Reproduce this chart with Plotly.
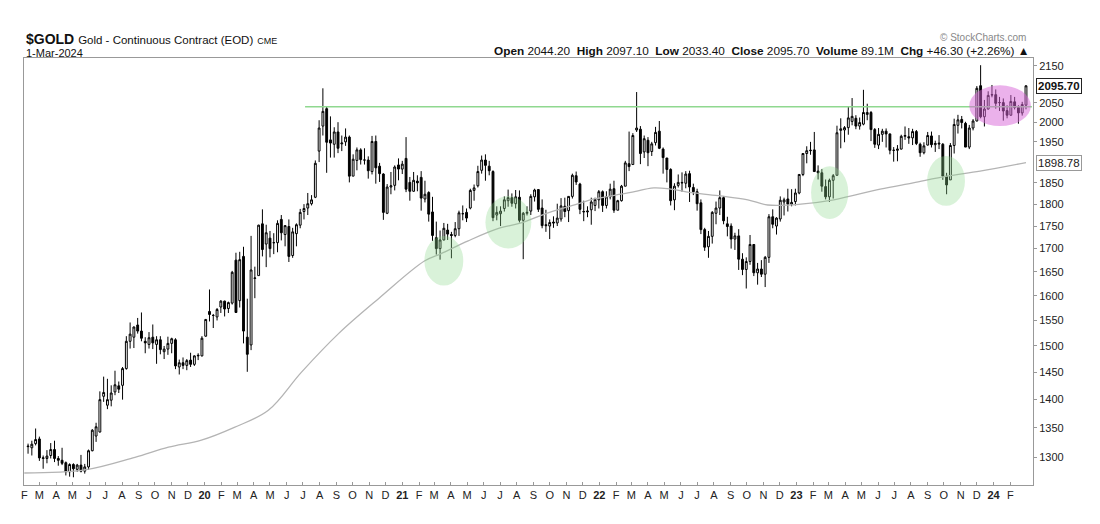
import math
import pandas as pd
import plotly.graph_objects as go

# ---------------- data (weekly bars, first bar = week ending 2019-02-08) ----------------
first_week = "2019-02-08"

open_ = [
    # 2019
    1319, 1316, 1323,
    1331, 1298, 1298, 1303, 1313,
    1298, 1295, 1291, 1276,
    1288, 1280, 1287, 1277, 1284,
    1311, 1336, 1343, 1406,
    1390, 1399, 1414, 1425,
    1426, 1457, 1509, 1517, 1541,
    1529, 1509, 1503, 1517,
    1503, 1512, 1489, 1494,
    1505, 1512, 1460, 1468, 1463,
    1473, 1465, 1481, 1481,
    # 2020
    1519, 1568, 1560, 1557, 1577,
    1589, 1574, 1585, 1675,
    1590, 1683, 1517, 1502,
    1636, 1642, 1755, 1710,
    1723, 1713, 1713, 1765, 1731,
    1749, 1685, 1733, 1752,
    1783, 1791, 1801, 1816, 1927,
    1990, 2035, 1955, 1944,
    1975, 1945, 1950, 1962,
    1866, 1904, 1930, 1905, 1905,
    1877, 1951, 1890, 1871,
    1779, 1840, 1844, 1893,
    # 2021
    1883, 1909, 1851, 1830, 1854,
    1863, 1812, 1827, 1782,
    1724, 1700, 1719, 1741,
    1731, 1729, 1744, 1778, 1781,
    1791, 1832, 1843, 1880,
    1905, 1890, 1877, 1775,
    1778, 1790, 1808, 1815, 1801,
    1816, 1763, 1779, 1784,
    1817, 1834, 1791, 1753,
    1750, 1759, 1757, 1766, 1795,
    1785, 1818, 1867, 1847,
    1782, 1782, 1787, 1797, 1810,
    # 2022
    1829, 1797, 1817, 1836,
    1786, 1808, 1842, 1896,
    1894, 1980, 1982, 1925,
    1954, 1926, 1948, 1977, 1932,
    1910, 1882, 1810, 1844,
    1851, 1849, 1872, 1839,
    1829, 1803, 1742, 1704, 1727,
    1779, 1791, 1815, 1755,
    1750, 1721, 1728, 1677, 1655,
    1672, 1709, 1648, 1656,
    1645, 1681, 1771, 1750,
    1766, 1805, 1812, 1800, 1806,
    # 2023
    1826, 1870, 1921, 1928,
    1930, 1878, 1874, 1841,
    1817, 1856, 1868, 1979, 1980,
    1986, 2002, 2010, 1990,
    1995, 2020, 2025, 1981,
    1942, 1969, 1977, 1970, 1929,
    1929, 1932, 1964, 1963,
    1960, 1976, 1944, 1923,
    1942, 1965, 1943, 1947, 1944,
    1866, 1857, 1941, 1992,
    2007, 1997, 1937, 1985,
    2003, 2096, 2014, 2034, 2071,
    # 2024
    2072, 2051, 2051, 2030,
    2018, 2053, 2038, 2024,
    2044.2,
]

high = [
    # 2019
    1323, 1328, 1349,
    1335, 1303, 1312, 1324, 1328,
    1302, 1316, 1293, 1290,
    1290, 1289, 1304, 1289, 1313,
    1348, 1359, 1415, 1442,
    1438, 1426, 1453, 1433,
    1460, 1519, 1546, 1538, 1555,
    1566, 1517, 1527, 1542,
    1519, 1519, 1500, 1518,
    1516, 1515, 1474, 1478, 1475,
    1487, 1482, 1486, 1519,
    # 2020
    1553, 1613, 1563, 1575, 1591,
    1590, 1588, 1652, 1691,
    1693, 1704, 1594, 1728,
    1661, 1753, 1788, 1753,
    1739, 1734, 1763, 1775, 1752,
    1765, 1746, 1756, 1789,
    1800, 1826, 1821, 1904, 2005,
    2089, 2040, 2015, 1987,
    2000, 1966, 1984, 1966,
    1919, 1936, 1934, 1934, 1914,
    1965, 1966, 1898, 1873,
    1847, 1876, 1892, 1909,
    # 2021
    1903, 1962, 1864, 1876, 1868,
    1878, 1855, 1830, 1817,
    1760, 1740, 1757, 1755,
    1737, 1759, 1785, 1797, 1790,
    1836, 1846, 1891, 1916,
    1919, 1903, 1880, 1795,
    1795, 1818, 1834, 1825, 1833,
    1832, 1782, 1795, 1823,
    1836, 1835, 1811, 1787,
    1765, 1772, 1801, 1814, 1815,
    1818, 1872, 1877, 1850,
    1808, 1795, 1815, 1815, 1833,
    # 2022
    1832, 1830, 1848, 1855,
    1810, 1845, 1903, 1976,
    1972, 2079, 1990, 1966,
    1962, 1950, 1988, 2003, 1936,
    1910, 1885, 1849, 1870,
    1875, 1878, 1879, 1848,
    1836, 1811, 1746, 1739, 1784,
    1806, 1832, 1819, 1771,
    1756, 1735, 1743, 1690, 1681,
    1730, 1710, 1669, 1675,
    1684, 1777, 1788, 1770,
    1818, 1815, 1836, 1835, 1836,
    # 2023
    1871, 1922, 1939, 1950,
    1975, 1892, 1883, 1858,
    1860, 1871, 1991, 2010, 1990,
    2040, 2063, 2018, 2012,
    2085, 2048, 2029, 1985,
    1985, 1983, 1984, 1971, 1937,
    1942, 1968, 1989, 1985,
    1983, 1980, 1948, 1949,
    1975, 1976, 1953, 1967, 1947,
    1874, 1947, 2009, 2019,
    2016, 2001, 1993, 2008,
    2095, 2152, 2058, 2081, 2098,
    # 2024
    2086, 2066, 2062, 2044,
    2071, 2066, 2044, 2053,
    2097.1,
]

low = [
    # 2019
    1306, 1303, 1320,
    1294, 1281, 1290, 1298, 1292,
    1286, 1287, 1270, 1268,
    1267, 1276, 1275, 1273, 1279,
    1310, 1326, 1342, 1396,
    1383, 1388, 1408, 1412,
    1400, 1455, 1495, 1496, 1524,
    1509, 1486, 1495, 1494,
    1466, 1484, 1475, 1483,
    1486, 1456, 1446, 1456, 1454,
    1460, 1462, 1473, 1480,
    # 2020
    1518, 1548, 1535, 1550, 1565,
    1558, 1565, 1582, 1565,
    1576, 1505, 1451, 1492,
    1595, 1642, 1683, 1660,
    1681, 1688, 1692, 1718, 1705,
    1671, 1680, 1705, 1745,
    1765, 1775, 1797, 1814, 1900,
    1966, 1874, 1911, 1911,
    1922, 1927, 1940, 1851,
    1866, 1880, 1894, 1894, 1860,
    1870, 1848, 1852, 1764,
    1777, 1823, 1832, 1856,
    # 2021
    1871, 1828, 1808, 1829, 1830,
    1785, 1804, 1760, 1717,
    1687, 1676, 1718, 1719,
    1679, 1725, 1728, 1763, 1759,
    1788, 1808, 1839, 1872,
    1855, 1868, 1761, 1763,
    1750, 1783, 1794, 1794, 1790,
    1758, 1677, 1774, 1775,
    1806, 1782, 1745, 1737,
    1721, 1746, 1750, 1760, 1770,
    1759, 1813, 1845, 1777,
    1761, 1770, 1753, 1784, 1790,
    # 2022
    1782, 1790, 1811, 1780,
    1786, 1806, 1842, 1878,
    1894, 1975, 1895, 1910,
    1890, 1915, 1941, 1932, 1872,
    1851, 1797, 1786, 1839,
    1829, 1837, 1805, 1821,
    1785, 1732, 1695, 1680, 1711,
    1754, 1775, 1754, 1727,
    1700, 1697, 1654, 1643, 1615,
    1665, 1641, 1623, 1639,
    1618, 1669, 1745, 1731,
    1760, 1774, 1783, 1795, 1797,
    # 2023
    1823, 1866, 1897, 1918,
    1876, 1858, 1829, 1811,
    1805, 1813, 1868, 1934, 1949,
    1968, 1992, 1982, 1981,
    1992, 2005, 1952, 1935,
    1932, 1950, 1936, 1919, 1901,
    1902, 1931, 1955, 1945,
    1942, 1942, 1913, 1919,
    1941, 1936, 1925, 1932, 1857,
    1823, 1857, 1921, 1971,
    1984, 1937, 1932, 1979,
    2002, 2010, 1989, 2033, 2065,
    # 2024
    2035, 2029, 2004, 2010,
    2017, 2033, 1996, 2017,
    2033.4,
]

close = [
    # 2019
    1318, 1322, 1330,
    1299, 1299, 1302, 1313, 1298,
    1295, 1290, 1276, 1288,
    1281, 1287, 1277, 1284, 1311,
    1346, 1352, 1400, 1413,
    1400, 1412, 1427, 1419,
    1457, 1509, 1523, 1537, 1529,
    1515, 1506, 1516, 1506,
    1512, 1493, 1494, 1505,
    1514, 1462, 1468, 1463, 1472,
    1465, 1481, 1482, 1515,
    # 2020
    1552, 1562, 1560, 1572, 1589,
    1573, 1586, 1649, 1566,
    1676, 1529, 1484, 1654,
    1637, 1752, 1698, 1735,
    1700, 1713, 1756, 1735, 1751,
    1683, 1737, 1753, 1781,
    1790, 1801, 1810, 1897, 1985,
    2028, 1949, 1947, 1975,
    1934, 1947, 1962, 1866,
    1907, 1930, 1906, 1905, 1879,
    1951, 1886, 1872, 1781,
    1840, 1843, 1888, 1883,
    # 2021
    1895, 1835, 1830, 1856, 1850,
    1814, 1823, 1777, 1729,
    1700, 1719, 1745, 1732,
    1729, 1744, 1780, 1778, 1768,
    1832, 1838, 1877, 1905,
    1892, 1879, 1769, 1781,
    1784, 1810, 1815, 1802, 1817,
    1763, 1779, 1781, 1818,
    1833, 1788, 1751, 1751,
    1758, 1757, 1768, 1796, 1783,
    1818, 1868, 1852, 1788,
    1783, 1784, 1805, 1811, 1829,
    # 2022
    1797, 1817, 1835, 1786,
    1808, 1842, 1898, 1889,
    1966, 1985, 1921, 1958,
    1923, 1945, 1974, 1934, 1911,
    1882, 1808, 1842, 1851,
    1850, 1871, 1840, 1829,
    1801, 1742, 1703, 1727, 1781,
    1791, 1815, 1762, 1749,
    1721, 1728, 1677, 1655, 1672,
    1709, 1648, 1656, 1645,
    1681, 1771, 1754, 1768,
    1809, 1810, 1800, 1804, 1826,
    # 2023
    1870, 1921, 1928, 1929,
    1877, 1874, 1842, 1817,
    1856, 1867, 1973, 1983, 1986,
    2011, 2015, 1990, 1999,
    2025, 2025, 1981, 1944,
    1969, 1977, 1970, 1929, 1929,
    1932, 1964, 1966, 1960,
    1976, 1946, 1923, 1940,
    1966, 1943, 1946, 1945, 1866,
    1845, 1941, 1994, 2006,
    1999, 1937, 1985, 2003,
    2089, 2014, 2034, 2070, 2072,
    # 2024
    2049, 2051, 2029, 2018,
    2054, 2038, 2024, 2046,
    2095.7,
]

# long moving average (grey line)
ma_dates = [
    "2019-02-01", "2019-05-24", "2019-08-25", "2019-10-26", "2019-12-26",
    "2020-02-25", "2020-04-28", "2020-06-28", "2020-09-05", "2020-11-18",
    "2021-02-11", "2021-03-14", "2021-05-03", "2021-06-27", "2021-08-09",
    "2021-09-28", "2021-11-28", "2021-12-22", "2022-02-23", "2022-04-12",
    "2022-05-13", "2022-06-25", "2022-08-14", "2022-10-03", "2022-11-09",
    "2023-01-09", "2023-03-11", "2023-06-05", "2023-08-05", "2023-10-07",
    "2023-12-07", "2024-03-01",
]
ma_values = [
    1274, 1279, 1300, 1317, 1329,
    1351, 1381, 1450, 1524, 1594,
    1673, 1689, 1717, 1744, 1757,
    1780, 1803, 1812, 1826, 1838,
    1835, 1826, 1819, 1810, 1798,
    1800, 1810, 1835, 1850, 1866,
    1878, 1898.78,
]

resistance_level = 2040
resistance_start = "2020-07-05"
resistance_end = "2024-03-12"

# highlighted zones: (start date, end date, low price, high price)
green_zones = [
    ("2021-02-11", "2021-04-24", 1621, 1728),
    ("2021-06-04", "2021-08-28", 1700, 1819),
    ("2023-01-28", "2023-04-07", 1766, 1890),
    ("2023-08-31", "2023-11-09", 1796, 1915),
]
pink_zone = ("2023-11-17", "2024-03-10", 1990, 2097)

# 1900 and 2100 are hidden behind the price tags in the original
y_ticks = [1300, 1350, 1400, 1450, 1500, 1550, 1600, 1650, 1700, 1750,
           1800, 1850, 1950, 2000, 2050, 2150]
month_letters = ["J", "F", "M", "A", "M", "J", "J", "A", "S", "O", "N", "D"]
x_tick_months = pd.date_range("2019-02-01", "2024-02-01", freq="MS")

last_close = 2095.70
last_ma = 1898.78

header_text = ("<b>Open</b> 2044.20  <b>High</b> 2097.10  <b>Low</b> 2033.40  "
               "<b>Close</b> 2095.70  <b>Volume</b> 89.1M  <b>Chg</b> +46.30 (+2.26%) ▲")

# ---------------- figure ----------------
dates = pd.date_range(first_week, periods=len(close), freq="W-FRI")

tick_text = []
for d in x_tick_months:
    if d.month == 1:
        tick_text.append(f"<b>{d.year % 100:02d}</b>")
    else:
        tick_text.append(month_letters[d.month - 1])

fig = go.Figure()
fig.add_trace(go.Candlestick(
    x=dates, open=open_, high=high, low=low, close=close,
    increasing=dict(line=dict(color="black", width=1), fillcolor="white"),
    decreasing=dict(line=dict(color="black", width=1), fillcolor="black"),
    whiskerwidth=0, showlegend=False, hoverinfo="skip",
))
fig.add_trace(go.Scatter(
    x=ma_dates, y=ma_values, mode="lines",
    line=dict(color="#b4b4b4", width=1.3, shape="spline"),
    showlegend=False, hoverinfo="skip",
))

shapes = [
    dict(type="line", xref="x", yref="y", x0=resistance_start, x1=resistance_end,
         y0=resistance_level, y1=resistance_level,
         line=dict(color="#8fd88f", width=1.5), layer="above"),
]
for x0, x1, y0, y1 in green_zones:
    shapes.append(dict(type="circle", xref="x", yref="y", x0=x0, x1=x1, y0=y0, y1=y1,
                       fillcolor="rgba(140,215,140,0.33)", line=dict(width=0), layer="above"))
shapes.append(dict(type="circle", xref="x", yref="y", x0=pink_zone[0], x1=pink_zone[1],
                   y0=pink_zone[2], y1=pink_zone[3],
                   fillcolor="rgba(215,100,215,0.5)", line=dict(width=0), layer="above"))

font_main = "Liberation Sans, Arial, sans-serif"

annotations = [
    dict(xref="paper", yref="paper", x=0, y=1.0445, xanchor="left", yanchor="middle",
         showarrow=False,
         text=("<b>$GOLD</b> <span style='font-size:11.5px'>Gold - Continuous Contract (EOD)</span>"
               " <span style='font-size:9px'>CME</span>"),
         font=dict(family=font_main, size=14, color="#111")),
    dict(xref="paper", yref="paper", x=0, y=1.0124, xanchor="left", yanchor="middle",
         showarrow=False, text="1-Mar-2024",
         font=dict(family=font_main, size=11, color="#111")),
    dict(xref="paper", yref="paper", x=0.998, y=1.0164, xanchor="right", yanchor="middle",
         showarrow=False, text=header_text,
         font=dict(family=font_main, size=11.8, color="#111")),
    dict(xref="paper", yref="paper", x=0.995, y=1.049, xanchor="right", yanchor="middle",
         showarrow=False, text="© StockCharts.com",
         font=dict(family=font_main, size=10, color="#888")),
    dict(xref="paper", yref="y", x=1, y=math.log10(last_close), xanchor="left", yanchor="middle",
         xshift=3, showarrow=False, text=f"<b>{last_close:.2f}</b>",
         font=dict(family=font_main, size=11.5, color="#111"),
         bgcolor="white", bordercolor="#222", borderwidth=1, borderpad=1),
    dict(xref="paper", yref="y", x=1, y=math.log10(last_ma), xanchor="left", yanchor="middle",
         xshift=3, showarrow=False, text=f"{last_ma:.2f}",
         font=dict(family=font_main, size=11.5, color="#222"),
         bgcolor="white", bordercolor="#999", borderwidth=1, borderpad=1),
]

fig.update_layout(
    width=1100, height=524,
    margin=dict(l=24, r=67, t=58, b=39),
    paper_bgcolor="white", plot_bgcolor="white",
    showlegend=False,
    shapes=shapes, annotations=annotations,
    font=dict(family=font_main, size=11, color="#222"),
)
fig.update_xaxes(
    type="date", range=["2019-01-31 12:00", "2024-03-14"],
    rangeslider=dict(visible=False),
    tickmode="array", tickvals=list(x_tick_months), ticktext=tick_text,
    ticks="inside", ticklen=3, tickcolor="#999",
    showgrid=False, zeroline=False,
    showline=True, linecolor="#999", linewidth=1, mirror=True,
    tickfont=dict(family=font_main, size=11, color="#222"),
)
fig.update_yaxes(
    type="log", side="right",
    range=[math.log10(1254.5), math.log10(2172)],
    tickmode="array", tickvals=y_ticks, ticktext=[str(v) for v in y_ticks],
    ticks="outside", ticklen=3, tickcolor="#999",
    showgrid=False, zeroline=False,
    showline=True, linecolor="#999", linewidth=1, mirror=True,
    tickfont=dict(family=font_main, size=11, color="#222"),
)

fig.write_html(
    "out.html",
    config={"displayModeBar": False},
    post_script="document.body.style.margin='0';document.body.style.padding='0';",
)
